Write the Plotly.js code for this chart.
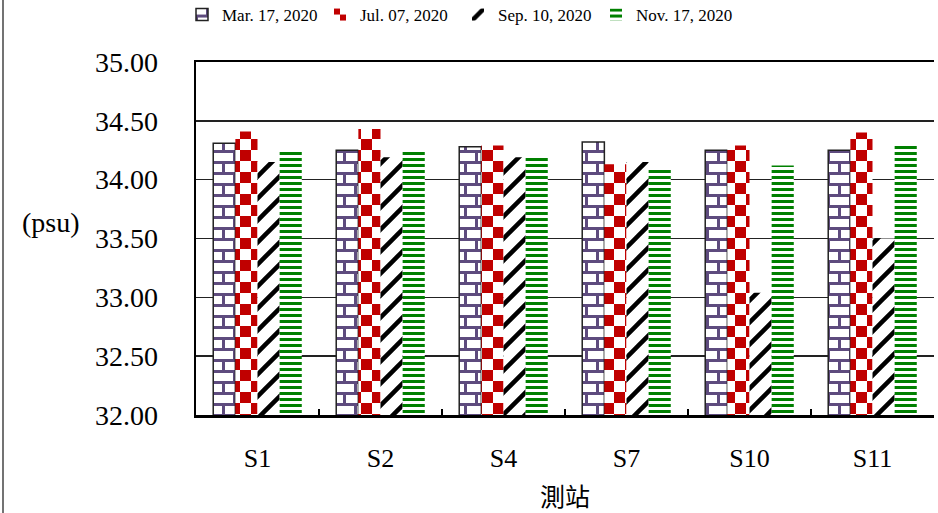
<!DOCTYPE html>
<html>
<head>
<meta charset="utf-8">
<script src="https://cdn.plot.ly/plotly-3.0.1.min.js"></script>
<style>
html,body{margin:0;padding:0;background:#fff;}
#chart{width:938px;height:513px;}
</style>
</head>
<body>
<div id="chart"></div>
<script>
const stations = ['S1', 'S2', 'S4', 'S7', 'S10', 'S11'];
const seriesNames = ['Mar. 17, 2020', 'Jul. 07, 2020', 'Sep. 10, 2020', 'Nov. 17, 2020'];
const mar17 = [34.31, 34.25, 34.28, 34.32, 34.25, 34.25];
const jul07 = [34.41, 34.43, 34.29, 34.13, 34.29, 34.40];
const sep10 = [34.15, 34.19, 34.19, 34.15, 33.04, 33.50];
const nov17 = [34.25, 34.24, 34.21, 34.10, 34.12, 34.30];
const yTickVals = [32.0, 32.5, 33.0, 33.5, 34.0, 34.5, 35.0];

const seriesValues = [mar17, jul07, sep10, nov17];
const fallbackShapes = ['+', 'x', '/', '-'];
const fallbackColors = ['#5E4B7E', '#C00000', '#000000', '#008000'];
const lineWidths = [1.5, 0, 0, 0];
const SERIF = 'Times New Roman, Liberation Serif, Tinos, serif';

const traces = seriesValues.map((vals, i) => ({
  type: 'bar',
  name: seriesNames[i],
  x: stations,
  y: vals,
  marker: {
    color: '#ffffff',
    line: {color: '#222', width: lineWidths[i]},
    pattern: {shape: fallbackShapes[i], fgcolor: fallbackColors[i], bgcolor: '#ffffff', size: 8, solidity: 0.4}
  },
  hoverinfo: 'skip'
}));

const L = 196, R = 4, T = 62, B = 98, W = 938, H = 513;
const pw = W - L - R, ph = H - T - B;

const layout = {
  width: W, height: H,
  margin: {l: L, r: R, t: T, b: B, pad: 0, autoexpand: false},
  paper_bgcolor: '#ffffff', plot_bgcolor: '#ffffff',
  font: {family: SERIF, color: '#000'},
  barmode: 'group', bargap: 0.28, bargroupgap: 0,
  showlegend: true,
  legend: {
    orientation: 'h', x: (182 - L) / pw, xanchor: 'left', y: 1 + (T - 15) / ph, yanchor: 'middle',
    font: {family: SERIF, size: 17, color: '#000'}, entrywidth: 93, entrywidthmode: 'pixels',
    bgcolor: 'rgba(0,0,0,0)', traceorder: 'normal', itemclick: false
  },
  xaxis: {
    type: 'category', showline: true, linecolor: '#000', linewidth: 2.5, mirror: true,
    ticks: 'inside', tickson: 'boundaries', ticklen: 6, tickcolor: '#000', tickwidth: 1.5,
    tickfont: {family: SERIF, size: 26, color: '#000'}, ticklabelstandoff: 18, showgrid: false, zeroline: false,
    title: {text: '測站', font: {family: 'Noto Sans CJK TC', size: 25, color: '#000'}, standoff: 18}
  },
  yaxis: {
    range: [32, 35], tickvals: yTickVals, tickformat: '.2f',
    showgrid: true, gridcolor: '#222', gridwidth: 1.5,
    showline: true, linecolor: '#000', linewidth: 2.5, zeroline: false,
    ticks: 'outside', ticklen: 30, tickcolor: 'rgba(0,0,0,0)', tickfont: {family: SERIF, size: 28, color: '#000'}
  },
  annotations: [{
    text: '(psu)', xref: 'paper', yref: 'paper', x: (51 - L) / pw, y: (H - B - 222) / ph,
    showarrow: false, xanchor: 'center', yanchor: 'middle', font: {family: SERIF, size: 28, color: '#000'}
  }],
  shapes: [{
    type: 'line', xref: 'paper', yref: 'paper',
    x0: (3 - L) / pw, x1: (3 - L) / pw, y0: -B / ph, y1: 1 + T / ph,
    line: {color: '#444', width: 1.5}
  }]
};

const patternDefs = `
<pattern id="cpat0" patternUnits="userSpaceOnUse" width="22" height="22">
  <rect width="22" height="22" fill="#fff"/>
  <rect x="0" y="0" width="22" height="3" fill="#5E4B7E"/>
  <rect x="0" y="11" width="22" height="3" fill="#5E4B7E"/>
  <rect x="15" y="3" width="3" height="8" fill="#5E4B7E"/>
  <rect x="4" y="14" width="3" height="8" fill="#5E4B7E"/>
</pattern>
<pattern id="cpat1" patternUnits="userSpaceOnUse" width="22" height="22">
  <rect width="22" height="22" fill="#fff"/>
  <rect x="0" y="0" width="11" height="11" fill="#C00000"/>
  <rect x="11" y="11" width="11" height="11" fill="#C00000"/>
</pattern>
<pattern id="cpat2" patternUnits="userSpaceOnUse" width="22" height="22">
  <rect width="22" height="22" fill="#fff"/>
  <path d="M-11,11 L11,-11 M0,22 L22,0 M11,33 L33,11" stroke="#000" stroke-width="4.5"/>
</pattern>
<pattern id="cpat3" patternUnits="userSpaceOnUse" width="6" height="6">
  <rect width="6" height="6" fill="#fff"/>
  <rect x="0" y="0" width="6" height="3" fill="#008000"/>
</pattern>`;

function applyPatterns(gd) {
  const NS = 'http://www.w3.org/2000/svg';
  const svg = gd.querySelector('svg.main-svg');
  const defs = document.createElementNS(NS, 'defs');
  defs.innerHTML = patternDefs;
  svg.insertBefore(defs, svg.firstChild);
  gd.querySelectorAll('.barlayer .trace').forEach((g, i) => {
    g.querySelectorAll('.point path').forEach(p => {
      p.style.fill = 'url(#cpat' + i + ')';
      p.style.fillOpacity = 1;
    });
  });
  gd.querySelectorAll('.legend .traces').forEach((g, i) => {
    g.querySelectorAll('.legendpoints path').forEach(p => {
      p.style.fill = 'url(#cpat' + i + ')';
      p.style.fillOpacity = 1;
    });
  });
}

const gd = document.getElementById('chart');
Plotly.newPlot(gd, traces, layout, {staticPlot: true, displayModeBar: false}).then(applyPatterns);
</script>
</body>
</html>
